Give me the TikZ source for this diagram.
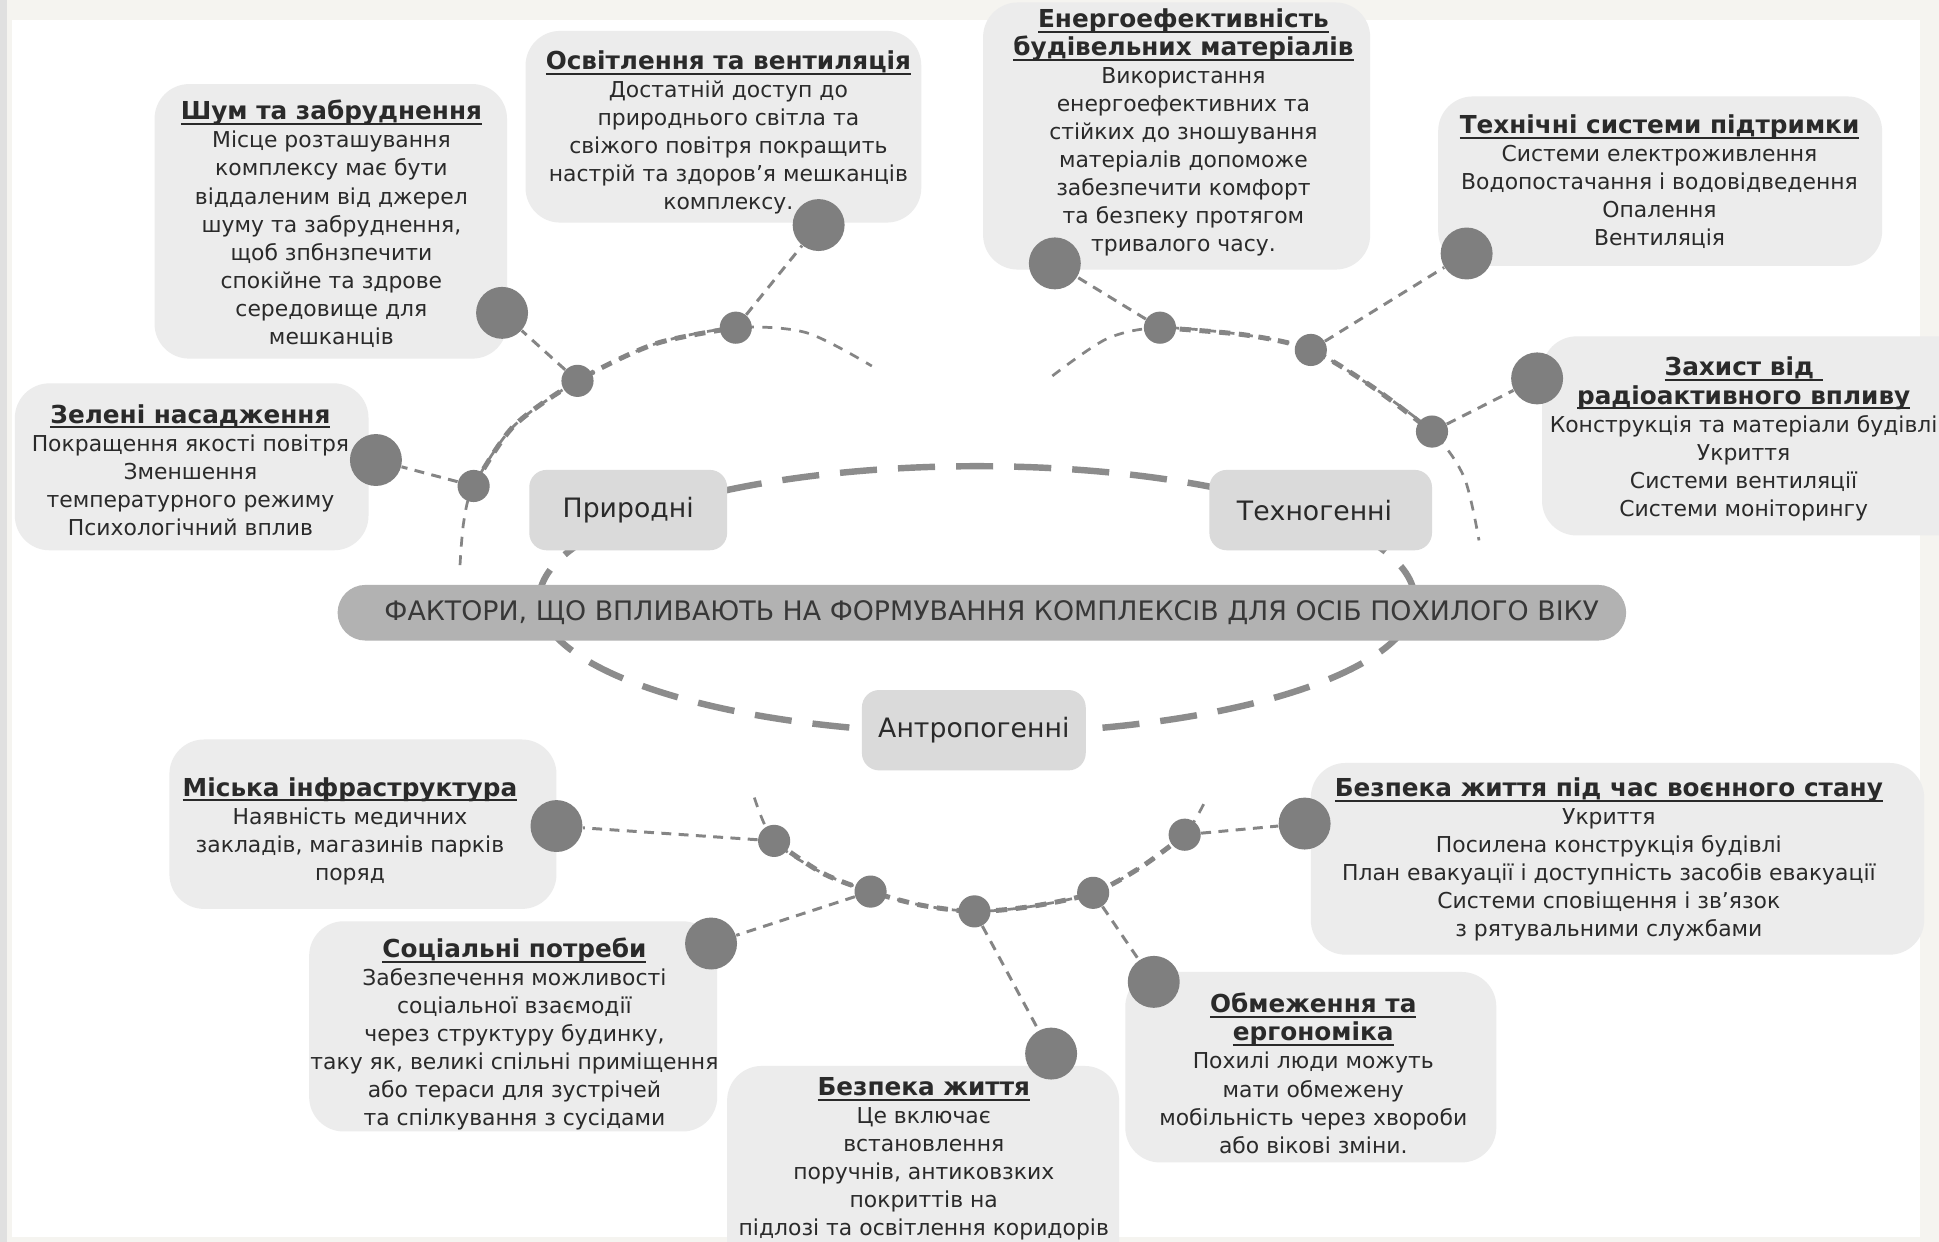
\documentclass[tikz,border=0pt]{standalone}
\usepackage{fontspec}
\setmainfont{DejaVu Sans}
\usetikzlibrary{fit}
\newsavebox\ulsbox
\newcommand\ulx[1]{\sbox\ulsbox{#1}\rlap{\rule[-2.2pt]{\wd\ulsbox}{0.8pt}}\usebox\ulsbox}
\newcommand\bodyf{\fontsize{8.85}{11.35}\selectfont}
\newcommand\titf{\fontsize{10}{11.35}\selectfont\bfseries}
\definecolor{pagebg}{HTML}{F5F4F0}
\definecolor{infofill}{HTML}{ECECEC}
\definecolor{catfill}{HTML}{DADADA}
\definecolor{barfill}{HTML}{B2B2B2}
\definecolor{dotc}{HTML}{7F7F7F}
\definecolor{linec}{HTML}{858585}
\definecolor{ellc}{HTML}{8C8C8C}
\definecolor{textc}{HTML}{2A2A2A}
\definecolor{bartext}{HTML}{383838}
\pgfdeclarelayer{back}
\pgfdeclarelayer{mid}
\pgfsetlayers{back,mid,main}
\begin{document}
\begin{tikzpicture}[x=0.5pt,y=-0.5pt,
  infobox/.style={fill=infofill, draw=none, rounded corners=14pt, inner sep=0pt},
  catbox/.style={fill=catfill, draw=none, rounded corners=7pt, inner sep=0pt, text=textc,
     font=\fontsize{10.8}{12}\selectfont},
  txt/.style={align=center, inner sep=0pt, text=textc, font=\bodyf},
  bigdot/.style={circle, fill=dotc, draw=none, minimum size=21pt, inner sep=0pt},
  smalldot/.style={circle, fill=dotc, draw=none, minimum size=13pt, inner sep=0pt},
  conn/.style={draw=linec, line width=1.2pt, dash pattern=on 4pt off 3pt},
  arcthin/.style={draw=linec, line width=1.1pt, dash pattern=on 4pt off 3.5pt},
  arcthick/.style={draw=linec, line width=2pt, dash pattern=on 4.5pt off 3.5pt},
  bigdash/.style={draw=ellc, line width=2.6pt, dash pattern=on 15pt off 8.5pt}
]
\useasboundingbox (0,0) rectangle (1568,1004);
\clip (0,0) rectangle (1568,1004);
\begin{pgfonlayer}{back}
  \fill[pagebg] (0,0) rectangle (1568,1004);
  \fill[white] (10,16) rectangle (1553,1000);
  \fill[black!12] (0,0) rectangle (6,1004);
\end{pgfonlayer}

% info boxes
\node[infobox, fit={(125,68) (410,290)}] (box1) {};
\node[infobox, fit={(425,25) (745,180)}] (box2) {};
\node[infobox, fit={(12,310) (298,445)}] (box3) {};
\node[infobox, fit={(795,2) (1108,218)}] (box4) {};
\node[infobox, fit={(1163,78) (1522,215)}] (box5) {};
\node[infobox, fit={(1247,272) (1600,433)}] (box6) {};
\node[infobox, fit={(137,598) (450,735)}] (box7) {};
\node[infobox, fit={(250,745) (580,915)}] (box8) {};
\node[infobox, fit={(588,862) (905,1040)}] (box9) {};
\node[infobox, fit={(910,786) (1210,940)}] (box10) {};
\node[infobox, fit={(1060,617) (1556,772)}] (box11) {};

% category boxes and central bar
\node[catbox, minimum width=80pt, minimum height=32.5pt] (nat) at (508,412.5) {Природні};
\node[catbox, minimum width=90pt, minimum height=32.5pt] (tech) at (1068,412.5) {\hspace*{-5pt}Техногенні};
\node[catbox, minimum width=90.5pt, minimum height=32.5pt] (anth) at (787.5,590.5) {Антропогенні};
\node[fill=barfill, rounded corners=11.25pt, minimum width=521pt, minimum height=22.5pt, inner sep=0pt,
      text=bartext, font=\fontsize{10.85}{12}\selectfont] (bar) at (794,495.5)
      {\hspace*{8pt}ФАКТОРИ, ЩО ВПЛИВАЮТЬ НА ФОРМУВАННЯ КОМПЛЕКСІВ ДЛЯ ОСІБ ПОХИЛОГО ВІКУ};

% texts
\node[txt] (t1) at (268,181) {{\titf\ulx{Шум та забруднення}}\\Місце розташування\\комплексу має бути\\віддаленим від джерел\\шуму та забруднення,\\щоб зпбнзпечити\\спокійне та здрове\\середовище для\\мешканців};
\node[txt] (t2) at (589,107) {{\titf\ulx{Освітлення та вентиляція}}\\Достатній доступ до\\природнього світла та\\свіжого повітря покращить\\настрій та здоров’я мешканців\\комплексу.};
\node[txt] (t3) at (154,380) {{\titf\ulx{Зелені насадження}}\\Покращення якості повітря\\Зменшення\\температурного режиму\\Психологічний вплив};
\node[txt] (t4) at (957,107) {{\titf\ulx{Енергоефективність}}\\{\titf\ulx{будівельних матеріалів}}\\Використання\\енергоефективних та\\стійких до зношування\\матеріалів допоможе\\забезпечити комфорт\\та безпеку протягом\\тривалого часу.};
\node[txt] (t5) at (1342,147) {{\titf\ulx{Технічні системи підтримки}}\\Системи електроживлення\\Водопостачання і водовідведення\\Опалення\\Вентиляція};
\node[txt] (t6) at (1410,355) {{\titf\ulx{Захист від\ }}\\{\titf\ulx{радіоактивного впливу}}\\Конструкція та матеріали будівлі\\Укриття\\Системи вентиляції\\Системи моніторингу};
\node[txt] (t7) at (283,672) {{\titf\ulx{Міська інфраструктура}}\\Наявність медичних\\закладів, магазинів парків\\поряд};
\node[txt] (t8) at (416,836) {{\titf\ulx{Соціальні потреби}}\\Забезпечення можливості\\соціальної взаємодії\\через структуру будинку,\\таку як, великі спільні приміщення\\або тераси для зустрічей\\та спілкування з сусідами};
\node[txt] (t9) at (747,937) {{\titf\ulx{Безпека життя}}\\Це включає\\встановлення\\поручнів, антиковзких\\покриттів на\\підлозі та освітлення коридорів};
\node[txt] (t10) at (1062,868) {{\titf\ulx{Обмеження та}}\\{\titf\ulx{ергономіка}}\\Похилі люди можуть\\мати обмежену\\мобільність через хвороби\\або вікові зміни.};
\node[txt] (t11) at (1301,695) {{\titf\ulx{Безпека життя під час воєнного стану}}\\Укриття\\Посилена конструкція будівлі\\План евакуації і доступність засобів евакуації\\Системи сповіщення і зв’язок\\з рятувальними службами};

% small dots on the arcs
\node[smalldot] (n1) at (383,393) {};
\node[smalldot] (n2) at (467,308) {};
\node[smalldot] (n3) at (595,265) {};
\node[smalldot] (m1) at (938,265) {};
\node[smalldot] (m2) at (1060,283) {};
\node[smalldot] (m3) at (1158,349) {};
\node[smalldot] (a1) at (626,680) {};
\node[smalldot] (a2) at (704,721) {};
\node[smalldot] (a3) at (788,737) {};
\node[smalldot] (a4) at (884,722) {};
\node[smalldot] (a5) at (958,675) {};

% big dots at boxes
\node[bigdot] (g1) at (304,372) {};
\node[bigdot] (g2) at (406,253) {};
\node[bigdot] (g3) at (662,182) {};
\node[bigdot] (g4) at (853,213) {};
\node[bigdot] (g5) at (1186,205) {};
\node[bigdot] (g6) at (1243,306) {};
\node[bigdot] (g7) at (450,668) {};
\node[bigdot] (g8) at (575,763) {};
\node[bigdot] (g9) at (850,852) {};
\node[bigdot] (g10) at (933,794) {};
\node[bigdot] (g11) at (1055,666) {};

\begin{pgfonlayer}{mid}
  % large dashed ellipse
  \draw[bigdash] (790,485) ellipse [x radius=177pt, y radius=54pt];
  % natural arc
  \draw[arcthin] plot[smooth] coordinates {(372,457) (375,422) (n1.center) (415,345) (n2.center) (530,278) (n3.center) (652,269) (705,296)};
  \draw[arcthick] plot[smooth] coordinates {(n1.center) (415,345) (n2.center) (530,278) (n3.center)};
  % technogenic arc
  \draw[arcthin] plot[smooth] coordinates {(851,304) (895,274) (m1.center) (1008,271) (m2.center) (1110,313) (m3.center) (1184,386) (1196,437)};
  \draw[arcthick] plot[smooth] coordinates {(m1.center) (1008,271) (m2.center) (1110,313) (m3.center)};
  % anthropogenic arc
  \draw[arcthin] plot[smooth] coordinates {(610,645) (a1.center) (665,706) (a2.center) (745,732) (a3.center) (834,733) (a4.center) (923,701) (a5.center) (976,645)};
  \draw[arcthick] plot[smooth] coordinates {(a1.center) (665,706) (a2.center) (745,732) (a3.center) (834,733) (a4.center) (923,701) (a5.center)};
  % connectors
  \draw[conn] (n1) -- (g1);
  \draw[conn] (n2) -- (g2);
  \draw[conn] (n3) -- (g3);
  \draw[conn] (m1) -- (g4);
  \draw[conn] (m2) -- (g5);
  \draw[conn] (m3) -- (g6);
  \draw[conn] (a1) -- (g7);
  \draw[conn] (a2) -- (g8);
  \draw[conn] (a3) -- (g9);
  \draw[conn] (a4) -- (g10);
  \draw[conn] (a5) -- (g11);
\end{pgfonlayer}
\end{tikzpicture}
\end{document}
